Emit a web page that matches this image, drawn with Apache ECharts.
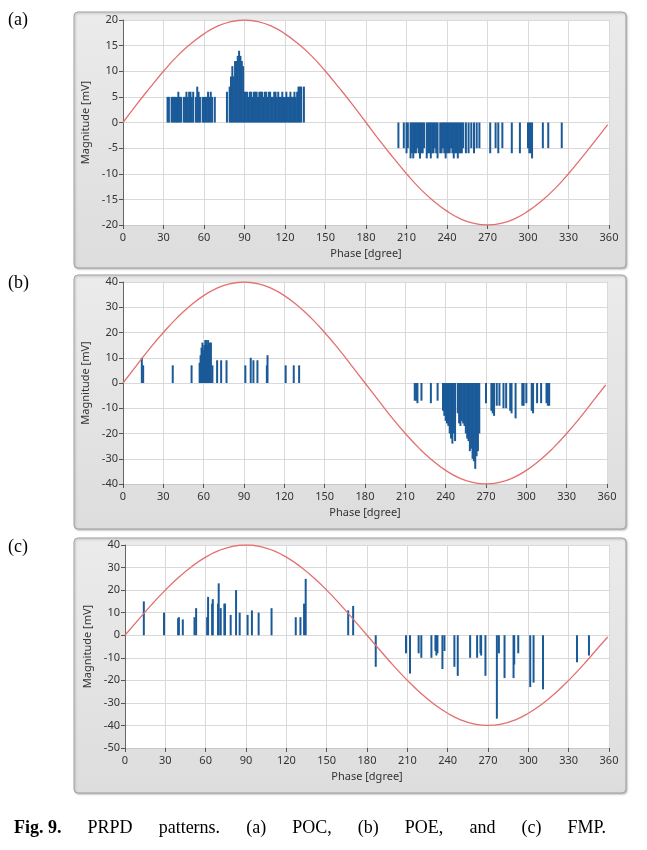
<!DOCTYPE html>
<html><head><meta charset="utf-8">
<script src="https://cdn.jsdelivr.net/npm/echarts@6/dist/echarts.min.js"></script>
<style>html,body{margin:0;padding:0;background:#fff}#c{width:647px;height:850px}</style>
</head><body><div id="c"></div>
<script>
// ---------- DATA ----------
const phaseTickLabels = ['0','30','60','90','120','150','180','210','240','270','300','330','360'];

// reference voltage curves [phase, value]
const sineA = [[0,0],[10,3.5],[20,6.8],[30,10],[40,12.9],[50,15.3],[60,17.3],[70,18.8],[80,19.7],[90,20],[100,19.7],[110,18.8],[120,17.3],[130,15.3],[140,12.9],[150,10],[160,6.8],[170,3.5],[180,0],[190,-3.5],[200,-6.8],[210,-10],[220,-12.9],[230,-15.3],[240,-17.3],[250,-18.8],[260,-19.7],[270,-20],[280,-19.7],[290,-18.8],[300,-17.3],[310,-15.3],[320,-12.9],[330,-10],[340,-6.8],[350,-3.5],[359,-0.4]];
const sineB = [[0,0],[10,6.9],[20,13.7],[30,20],[40,25.7],[50,30.6],[60,34.6],[70,37.6],[80,39.4],[90,40],[100,39.4],[110,37.6],[120,34.6],[130,30.6],[140,25.7],[150,20],[160,13.7],[170,6.9],[180,0],[190,-6.9],[200,-13.7],[210,-20],[220,-25.7],[230,-30.6],[240,-34.6],[250,-37.6],[260,-39.4],[270,-40],[280,-39.4],[290,-37.6],[300,-34.6],[310,-30.6],[320,-25.7],[330,-20],[340,-13.7],[350,-6.9],[359,-0.8]];
const sineC = [[0,0],[10,6.9],[20,13.7],[30,20],[40,25.7],[50,30.6],[60,34.6],[70,37.6],[80,39.4],[90,40],[100,39.4],[110,37.6],[120,34.6],[130,30.6],[140,25.7],[150,20],[160,13.7],[170,6.9],[180,0],[190,-6.9],[200,-13.7],[210,-20],[220,-25.7],[230,-30.6],[240,-34.6],[250,-37.6],[260,-39.4],[270,-40],[280,-39.4],[290,-37.6],[300,-34.6],[310,-30.6],[320,-25.7],[330,-20],[340,-13.7],[350,-6.9],[359,-0.8]];

// (a) POC pulses [phase, magnitude mV]
const pocBars = [[33,5],[34,5],[36,5],[37,5],[38,5],[39,5],[40,5],[41,6],[42,5],[43,5],[45,5],[46,5],[47,6],[48,5],[49,6],[50,6],[51,5],[52,6],[54,5],[55,7],[56,6],[57,5],[59,5],[60,5],[61,5],[62,5],[63,6],[64,5],[65,6],[66,5],[68,5],
[77,6],[79,7],[80,9],[81,11],[82,9],[83,12],[84,12],[85,13],[86,14],[87,13],[88,12],[89,11],[90,6],[91,6],[92,6],[93,5],[94,6],[95,6],[96,5],[97,6],[98,6],[99,6],[100,5],[101,6],[102,6],[103,6],[104,5],[105,6],[106,6],[107,5],[108,6],[109,6],[110,5],[111,5],[112,6],[113,6],[114,5],[115,6],[116,5],[117,5],[118,6],[119,5],[120,5],[121,6],[122,5],[123,5],[124,6],[125,5],[126,5],[127,6],[128,5],[129,6],[130,7],[131,7],[132,7],[134,7],
[204,-5],[208,-5],[210,-6],[211,-5],[213,-7],[214,-6],[215,-7],[216,-6],[217,-6],[218,-5],[219,-6],[220,-7],[221,-6],[222,-6],[223,-5],[225,-7],[226,-6],[227,-6],[228,-7],[229,-6],[230,-6],[231,-5],[232,-6],[233,-7],[235,-6],[236,-6],[237,-5],[238,-6],[239,-7],[240,-6],[241,-6],[242,-6],[243,-5],[244,-6],[245,-7],[246,-6],[247,-6],[248,-7],[249,-6],[250,-6],[251,-6],[252,-5],[254,-6],[256,-6],[258,-5],[260,-6],[262,-5],[264,-5],
[272,-6],[276,-5],[278,-6],[281,-5],[288,-6],[294,-6],[300,-5],[301,-6],[302,-6],[303,-7],[311,-5],[315,-5],[325,-5]];

// (b) POE pulses
const poeBars = [[14,10],[15,7],[37,7],[51,7],[57,8],[57.7,11],[58.4,14],[59.1,16],[59.8,13],[60.5,15],[61.2,17],[61.9,17],[62.6,15],[63.3,17],[64,13],[64.7,16],[65.4,16],[66.5,7],[70,9],[73,9],[77,9],[91,7],[95,10],[97,9],[100,9],[107,7],[107.5,11],[121,7],[127,7],[131,7],
[217,-7],[218,-7],[219,-8],[222,-7],[229,-8],[234,-7],[238,-11],[239,-13],[240,-15],[241,-16],[242,-17],[243,-20],[244,-22],[245,-24],[246,-20],[247,-23],[249,-12],[250,-16],[251,-17],[252,-15],[253,-16],[254,-17],[255,-20],[256,-22],[257,-23],[258,-27],[259,-26],[260,-30],[261,-31],[262,-34],[263,-29],[264,-27],[265,-20],
[270,-8],[274,-11],[275,-12],[276,-13],[278,-9],[280,-9],[283,-10],[285,-10],[288,-11],[289,-12],[292,-14],[297,-9],[298,-9],[300,-8],[304,-11],[305,-12],[308,-8],[311,-8],[315,-8],[316,-9],[317,-9]];

// (c) FMP pulses
const fmpBars = [[14,15],[29,10],[39.5,7.5],[40.1,8],[43,7],[51.7,8],[52.9,12],[61.1,8],[61.8,17],[64.8,14],[65.3,16],[69.2,14],[69.7,23],[71.2,12],[73.9,14],[74.4,14],[78.6,9],[82.6,20],[85.3,10],[91.2,9],[94.4,11],[99.4,10],[109,12],[127,8],[130.5,8],[133.2,14],[134.4,25],[166,11],[169.7,13],
[186.5,-14],[209,-8],[212,-17],[218.4,-8],[220.4,-10],[227.9,-10],[230.9,-7],[231.6,-9],[232.4,-8],[236.1,-15],[237.6,-7],[245,-14],[247.5,-18],[256.7,-10],[261.9,-10],[264.4,-8],[264.9,-9],[268.1,-18],[276.6,-37],[278.1,-8],[282.3,-19],[289,-19],[289.5,-13],[292.5,-8],[301.4,-23],[303.9,-21],[310.9,-24],[336.2,-12],[345.1,-9]];

const panelLetters = ['(a)','(b)','(c)'];
const captionWords = ['Fig. 9.','PRPD','patterns.','(a)','POC,','(b)','POE,','and','(c)','FMP.'];

// ---------- LAYOUT ----------
const FONT = '"Noto Sans", "DejaVu Sans", sans-serif';
const panels = [
  {frame:{x:74,y:12,w:552,h:256}, grid:{left:123,top:20,width:486,height:205}, y:[-20,20,5], bars:pocBars, sine:sineA, labelY:21},
  {frame:{x:74,y:275,w:552,h:254}, grid:{left:123,top:282,width:484,height:202}, y:[-40,40,10], bars:poeBars, sine:sineB, labelY:284},
  {frame:{x:74,y:538,w:552,h:255}, grid:{left:125,top:545,width:484,height:203}, y:[-50,40,10], bars:fmpBars, sine:sineC, labelY:548}
];

const grids=[], xAxes=[], yAxes=[], series=[], graphics=[];
panels.forEach((p,i)=>{
  graphics.push({type:'rect', z:-10, shape:{x:p.frame.x,y:p.frame.y,width:p.frame.w,height:p.frame.h,r:4},
    style:{fill:new echarts.graphic.LinearGradient(0,0,0,1,[{offset:0,color:'#ebebeb'},{offset:1,color:'#dddddd'}]),
      stroke:'#a3a3a3', lineWidth:1, shadowColor:'rgba(0,0,0,0.25)', shadowBlur:2, shadowOffsetX:1, shadowOffsetY:1}});
  graphics.push({type:'text', left:8, top:p.labelY-10, style:{text:panelLetters[i], font:'18px "Liberation Serif", serif', fill:'#000'}});
  grids.push(Object.assign({show:true, backgroundColor:'#ffffff', borderWidth:0}, p.grid));
  xAxes.push({type:'value', gridIndex:i, min:0, max:360, interval:30,
    axisLine:{show:true, onZero:false, lineStyle:{color:'#c9c9c9'}},
    axisTick:{show:true, length:4, lineStyle:{color:'#555'}},
    axisLabel:{color:'#333', fontSize:11, margin:7, fontFamily:FONT, formatter:(v)=>phaseTickLabels[Math.round(v/30)]},
    splitLine:{show:true, lineStyle:{color:'#d9d9d9', width:1}},
    name:'Phase [dgree]', nameLocation:'middle', nameGap:23, nameTextStyle:{color:'#333', fontSize:11, fontFamily:FONT}});
  yAxes.push({type:'value', gridIndex:i, min:p.y[0], max:p.y[1], interval:p.y[2],
    axisLine:{show:true, onZero:false, lineStyle:{color:'#666'}},
    axisTick:{show:true, length:4, lineStyle:{color:'#555'}},
    axisLabel:{color:'#333', fontSize:11, margin:5, fontFamily:FONT},
    splitLine:{show:true, lineStyle:{color:'#d9d9d9', width:1}},
    name:'Magnitude [mV]', nameLocation:'middle', nameGap:25, nameRotate:90, nameTextStyle:{color:'#333', fontSize:11, fontFamily:FONT}});
  series.push({type:'bar', xAxisIndex:i, yAxisIndex:i, data:p.bars, barWidth:2, itemStyle:{color:'#1b5a98'}, silent:true, z:2});
  series.push({type:'line', xAxisIndex:i, yAxisIndex:i, data:p.sine, smooth:true, showSymbol:false, symbol:'none',
    lineStyle:{color:'#e46f6f', width:1.3}, silent:true, z:3});
});

// justified caption
(function(){
  const cv=document.createElement('canvas').getContext('2d');
  const fonts=captionWords.map((w,k)=> (k===0?'bold ':'')+'18px "Liberation Serif", serif');
  const widths=captionWords.map((w,k)=>{cv.font=fonts[k];return cv.measureText(w).width;});
  const x0=14, x1=606;
  const total=widths.reduce((a,b)=>a+b,0);
  const gap=(x1-x0-total)/(captionWords.length-1);
  let x=x0;
  captionWords.forEach((w,k)=>{
    graphics.push({type:'text', x:x, y:819, style:{text:w, font:fonts[k], fill:'#000'}});
    x+=widths[k]+gap;
  });
})();

const chart=echarts.init(document.getElementById('c'),null,{renderer:'canvas'});
chart.setOption({animation:false, grid:grids, xAxis:xAxes, yAxis:yAxes, series:series, graphic:{elements:graphics}});
</script></body></html>
